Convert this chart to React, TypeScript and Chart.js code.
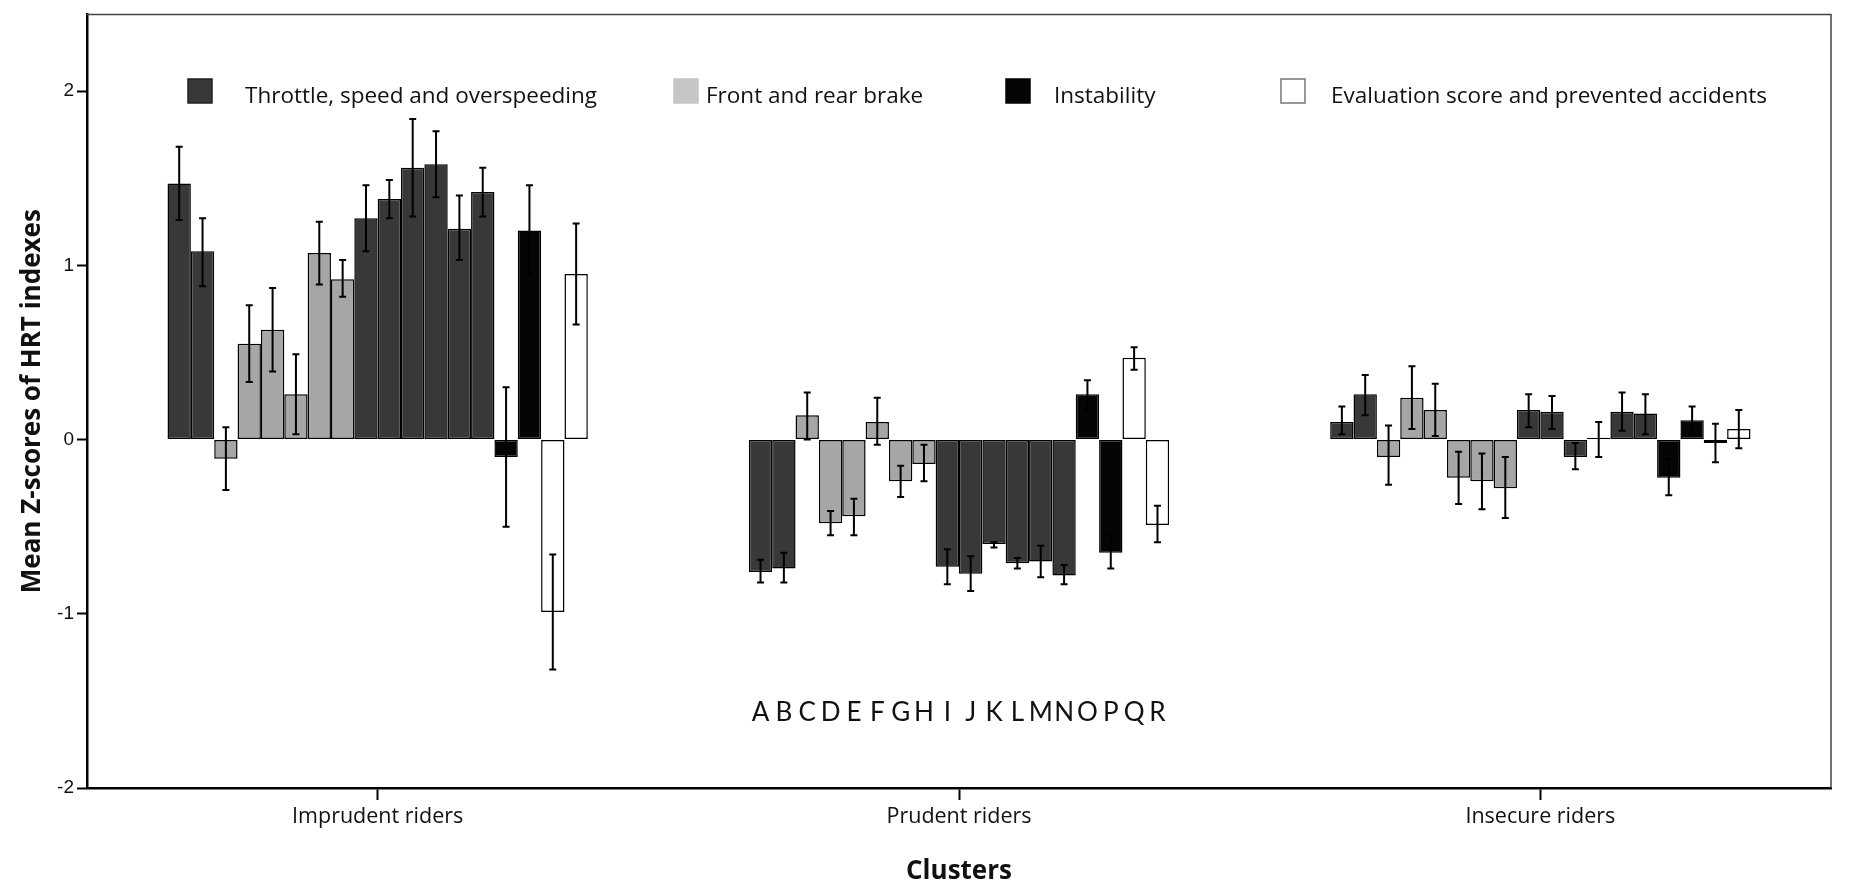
import { useEffect, useRef } from 'react';
import Chart from 'chart.js/auto';

// clusters on the x axis
const clusters = ['Imprudent riders', 'Prudent riders', 'Insecure riders'];

// the 18 HRT indexes (A..R) and the index family each belongs to
const indexLetters = ['A', 'B', 'C', 'D', 'E', 'F', 'G', 'H', 'I', 'J', 'K', 'L', 'M', 'N', 'O', 'P', 'Q', 'R'];
const indexFamily = [0, 0, 1, 1, 1, 1, 1, 1, 0, 0, 0, 0, 0, 0, 2, 2, 3, 3];
const familyLabels = [
  'Throttle, speed and overspeeding',
  'Front and rear brake',
  'Instability',
  'Evaluation score and prevented accidents',
];

// mean z-scores per cluster, with error bar ends
const imprudentMean = [1.47, 1.08, -0.11, 0.55, 0.63, 0.26, 1.07, 0.92, 1.27, 1.38, 1.56, 1.58, 1.21, 1.42, -0.1, 1.2, -0.99, 0.95];
const imprudentLow = [1.26, 0.88, -0.29, 0.33, 0.39, 0.03, 0.89, 0.82, 1.08, 1.27, 1.28, 1.39, 1.03, 1.28, -0.5, 0.95, -1.32, 0.66];
const imprudentHigh = [1.68, 1.27, 0.07, 0.77, 0.87, 0.49, 1.25, 1.03, 1.46, 1.49, 1.84, 1.77, 1.4, 1.56, 0.3, 1.46, -0.66, 1.24];

const prudentMean = [-0.76, -0.74, 0.14, -0.48, -0.44, 0.1, -0.24, -0.14, -0.73, -0.77, -0.6, -0.71, -0.7, -0.78, 0.26, -0.65, 0.47, -0.49];
const prudentLow = [-0.82, -0.82, 0.0, -0.55, -0.55, -0.03, -0.33, -0.24, -0.83, -0.87, -0.62, -0.74, -0.79, -0.83, 0.17, -0.74, 0.4, -0.59];
const prudentHigh = [-0.69, -0.65, 0.27, -0.41, -0.34, 0.24, -0.15, -0.03, -0.63, -0.67, -0.59, -0.68, -0.61, -0.72, 0.34, -0.55, 0.53, -0.38];

const insecureMean = [0.1, 0.26, -0.1, 0.24, 0.17, -0.22, -0.24, -0.28, 0.17, 0.16, -0.1, 0.01, 0.16, 0.15, -0.22, 0.11, -0.02, 0.06];
const insecureLow = [0.03, 0.14, -0.26, 0.06, 0.02, -0.37, -0.4, -0.45, 0.07, 0.06, -0.17, -0.1, 0.05, 0.03, -0.32, 0.03, -0.13, -0.05];
const insecureHigh = [0.19, 0.37, 0.08, 0.42, 0.32, -0.07, -0.08, -0.1, 0.26, 0.25, -0.02, 0.1, 0.27, 0.26, -0.11, 0.19, 0.09, 0.17];

const yTicks = [-2, -1, 0, 1, 2];

const means = [imprudentMean, prudentMean, insecureMean];
const lows = [imprudentLow, prudentLow, insecureLow];
const highs = [imprudentHigh, prudentHigh, insecureHigh];

const familyFill = ['#383838', '#a6a6a6', '#050505', '#ffffff'];
const legendFill = ['#383838', '#c6c6c6', '#050505', '#ffffff'];
const legendBorder = ['#222', '#c6c6c6', '#050505', '#777'];
const legendX = [188, 674, 1006, 1281];
const legendTextX = [245, 706, 1054, 1331];
const legendY = 91;
const letterLevel = -1.57;

const uiFont = '"Open Sans", "Noto Sans", sans-serif';

const errorBars = {
  id: 'errorBars',
  afterDatasetsDraw(chart: any) {
    const { ctx } = chart;
    const y = chart.scales.y;
    ctx.save();
    ctx.strokeStyle = '#000';
    ctx.lineWidth = 2;
    chart.data.datasets.forEach((_: any, i: number) => {
      const meta = chart.getDatasetMeta(i);
      meta.data.forEach((bar: any, j: number) => {
        const yl = y.getPixelForValue(lows[j][i]);
        const yh = y.getPixelForValue(highs[j][i]);
        ctx.beginPath();
        ctx.moveTo(bar.x, yl);
        ctx.lineTo(bar.x, yh);
        ctx.moveTo(bar.x - 3.5, yl);
        ctx.lineTo(bar.x + 3.5, yl);
        ctx.moveTo(bar.x - 3.5, yh);
        ctx.lineTo(bar.x + 3.5, yh);
        ctx.stroke();
      });
    });
    ctx.restore();
  },
};

const frameAndLegend = {
  id: 'frameAndLegend',
  afterDraw(chart: any) {
    const { ctx, chartArea } = chart;
    const y = chart.scales.y;
    ctx.save();
    // top and right frame
    ctx.strokeStyle = '#444';
    ctx.lineWidth = 1.5;
    ctx.beginPath();
    ctx.moveTo(chartArea.left, chartArea.top);
    ctx.lineTo(chartArea.right, chartArea.top);
    ctx.lineTo(chartArea.right, chartArea.bottom);
    ctx.stroke();

    // legend
    ctx.font = `22.5px ${uiFont}`;
    ctx.textBaseline = 'middle';
    ctx.textAlign = 'left';
    familyLabels.forEach((label, k) => {
      ctx.fillStyle = legendFill[k];
      ctx.fillRect(legendX[k], legendY - 12, 24, 24);
      ctx.strokeStyle = legendBorder[k];
      ctx.lineWidth = 1.5;
      ctx.strokeRect(legendX[k], legendY - 12, 24, 24);
      ctx.fillStyle = '#111';
      ctx.fillText(label, legendTextX[k], legendY + 6);
    });

    // index letters under the prudent cluster
    ctx.font = `26px Lato, ${uiFont}`;
    ctx.textAlign = 'center';
    ctx.fillStyle = '#111';
    const ly = y.getPixelForValue(letterLevel);
    indexLetters.forEach((letter, i) => {
      const bar = chart.getDatasetMeta(i).data[1];
      ctx.fillText(letter, bar.x, ly);
    });
    ctx.restore();
  },
};

export default function App() {
  const canvasRef = useRef<HTMLCanvasElement>(null);
  const chartRef = useRef<Chart | null>(null);

  useEffect(() => {
    document.body.style.margin = '0';
    if (!canvasRef.current) return;
    if (chartRef.current) chartRef.current.destroy();

    chartRef.current = new Chart(canvasRef.current, {
      type: 'bar',
      data: {
        labels: clusters,
        datasets: indexLetters.map((letter, i) => ({
          label: letter,
          data: means.map((m) => m[i]),
          backgroundColor: familyFill[indexFamily[i]],
          borderColor: '#000',
          borderWidth: 1.5,
          borderSkipped: false,
          categoryPercentage: 0.723,
          barPercentage: 1.0,
        })),
      },
      options: {
        responsive: true,
        maintainAspectRatio: false,
        animation: false,
        layout: { padding: { top: 14, right: 20, left: 0, bottom: 0 } },
        plugins: {
          legend: { display: false },
          tooltip: { enabled: false },
        },
        scales: {
          x: {
            grid: {
              offset: false,
              drawOnChartArea: false,
              drawTicks: true,
              tickLength: 12,
              tickColor: '#000',
              tickWidth: 2,
            },
            border: { color: '#000', width: 2.5 },
            ticks: {
              color: '#111',
              padding: 4,
              font: { family: uiFont, size: 21.5 },
            },
            title: {
              display: true,
              text: 'Clusters',
              color: '#111',
              font: { family: uiFont, size: 26, weight: 'bold' },
              padding: { top: 0, bottom: 0 },
            },
            afterFit: (scale: any) => {
              scale.height = 99;
            },
          },
          y: {
            min: -2,
            max: 2.44,
            afterBuildTicks: (scale: any) => {
              scale.ticks = yTicks.map((v) => ({ value: v }));
            },
            grid: {
              drawOnChartArea: false,
              drawTicks: true,
              tickLength: 10,
              tickColor: '#000',
              tickWidth: 2,
            },
            border: { color: '#000', width: 2.5 },
            ticks: {
              color: '#111',
              padding: 3,
              font: { family: '"Liberation Sans", Arial, sans-serif', size: 19 },
            },
            title: {
              display: true,
              text: 'Mean Z-scores of HRT indexes',
              color: '#111',
              font: { family: uiFont, size: 26, weight: 'bold' },
              padding: { top: 17, bottom: 0 },
            },
            afterFit: (scale: any) => {
              scale.width = 87;
            },
          },
        },
      },
      plugins: [errorBars, frameAndLegend],
    });

    return () => {
      if (chartRef.current) {
        chartRef.current.destroy();
        chartRef.current = null;
      }
    };
  }, []);

  return (
    <div style={{ width: '1851px', height: '887px', position: 'relative', background: '#fff' }}>
      <canvas ref={canvasRef}></canvas>
    </div>
  );
}
